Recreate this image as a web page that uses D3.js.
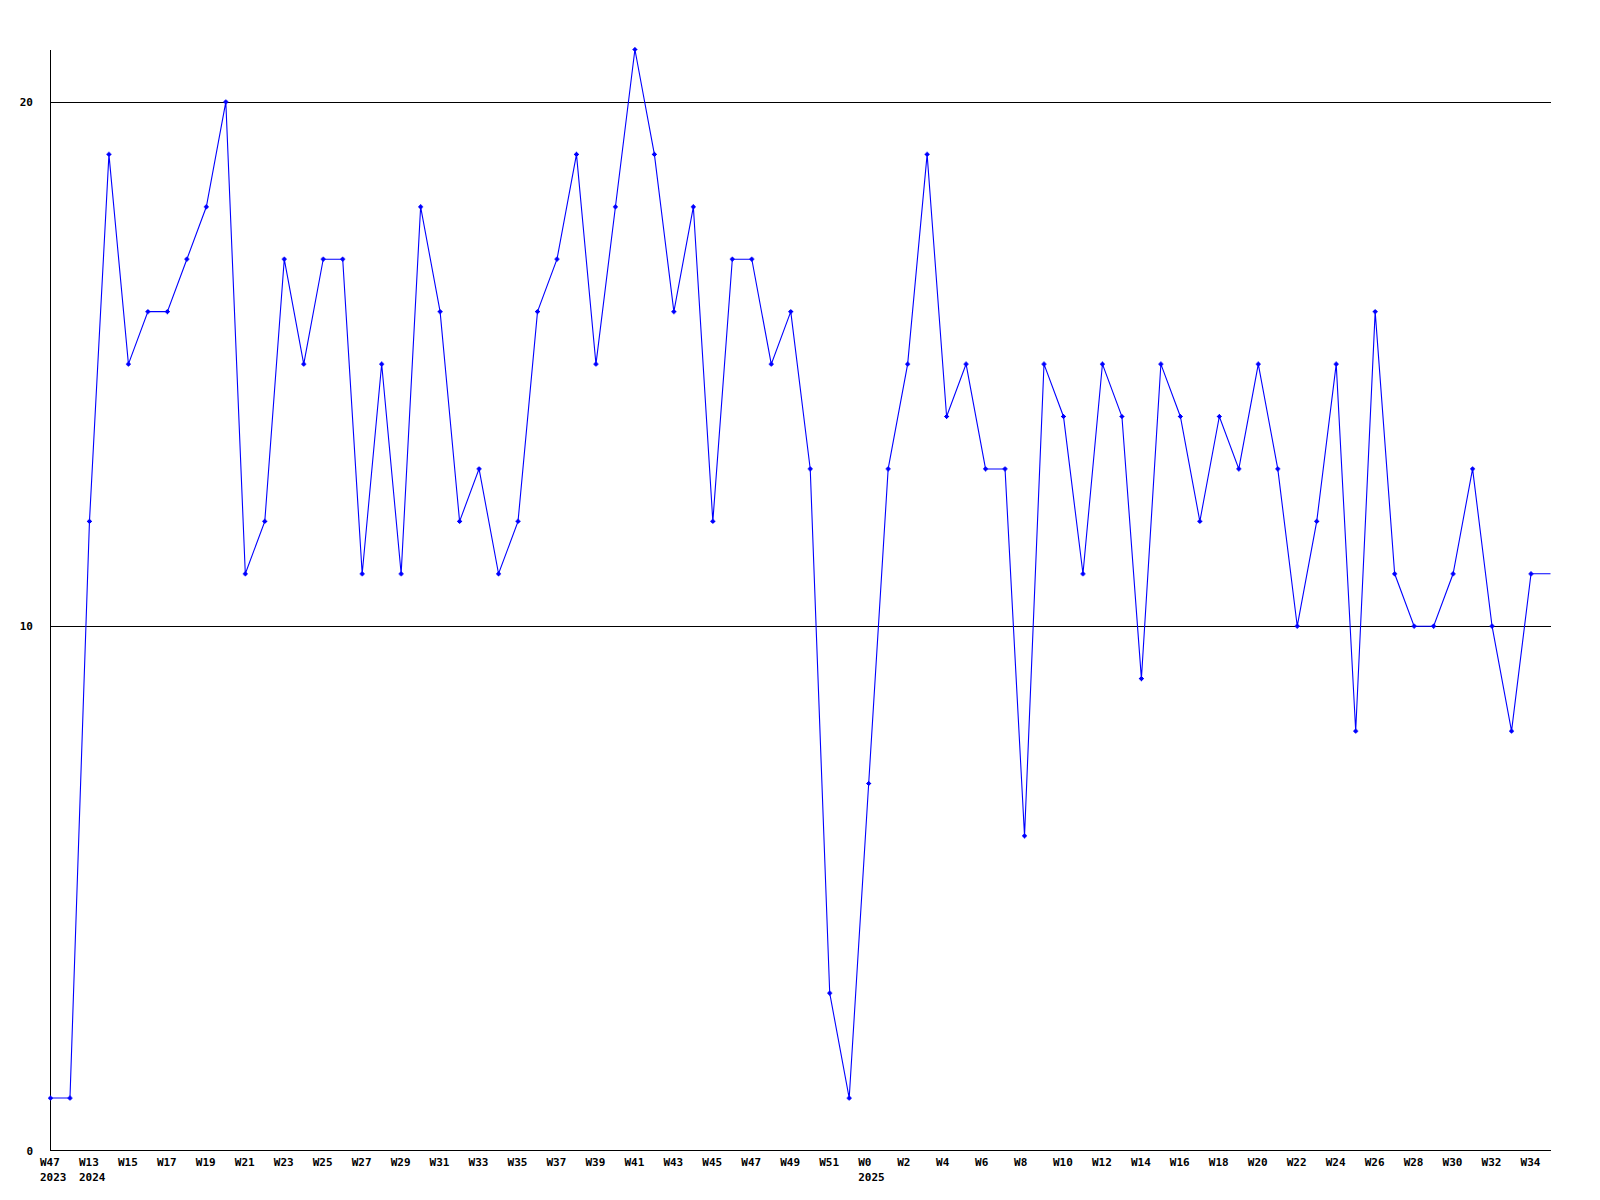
<!DOCTYPE html>
<html>
<head>
<meta charset="utf-8">
<script src="https://cdn.jsdelivr.net/npm/d3@7"></script>
<style>
  html, body { margin: 0; padding: 0; background: #ffffff; }
  svg { display: block; }
  text { font-family: "DejaVu Sans Mono", "Liberation Mono", monospace; font-weight: bold; font-size: 11px; fill: #000; }
</style>
</head>
<body>
<svg id="chart" width="1600" height="1200"></svg>
<script>
// Week labels (every point); empty string = unlabeled point
const weekLabels = [
  "W47", "", "W13", "", "W15", "", "W17", "", "W19", "", "W21", "", "W23", "", "W25", "",
  "W27", "", "W29", "", "W31", "", "W33", "", "W35", "", "W37", "", "W39", "", "W41", "",
  "W43", "", "W45", "", "W47", "", "W49", "", "W51", "", "W0", "", "W2", "", "W4", "",
  "W6", "", "W8", "", "W10", "", "W12", "", "W14", "", "W16", "", "W18", "", "W20", "",
  "W22", "", "W24", "", "W26", "", "W28", "", "W30", "", "W32", "", "W34"
];
// Year labels shown under selected weeks
const yearLabels = { 0: "2023", 2: "2024", 42: "2025" };
// Series values
const values = [
  1, 1, 12, 19, 15, 16, 16, 17, 18, 20, 11, 12, 17, 15, 17, 17,
  11, 15, 11, 18, 16, 12, 13, 11, 12, 16, 17, 19, 15, 18, 21, 19,
  16, 18, 12, 17, 17, 15, 16, 13, 3, 1, 7, 13, 15, 19, 14, 15,
  13, 13, 6, 15, 14, 11, 15, 14, 9, 15, 14, 12, 14, 13, 15, 13,
  10, 12, 15, 8, 16, 11, 10, 10, 11, 13, 10, 8, 11
];
const yTicks = [0, 10, 20];

const svg = d3.select("#chart");
const x0 = 50.5, x1 = 1550.5, yBottom = 1150.5, yTop = 49.5;
const nSlots = values.length; // axis extends one slot beyond last point

const x = d3.scaleLinear().domain([0, nSlots]).range([x0, x1]);
const y = d3.scaleLinear().domain([0, 21]).range([yBottom, yTop]);

// gridlines (10, 20)
svg.append("g").selectAll("line")
  .data(yTicks.filter(d => d > 0))
  .join("line")
  .attr("x1", x0).attr("x2", x1)
  .attr("y1", d => Math.round(y(d)) + 0.5).attr("y2", d => Math.round(y(d)) + 0.5)
  .attr("stroke", "#000").attr("stroke-width", 1)
  .attr("shape-rendering", "crispEdges");

// axes lines
svg.append("line").attr("x1", x0).attr("x2", x0).attr("y1", yTop).attr("y2", yBottom)
  .attr("stroke", "#000").attr("shape-rendering", "crispEdges");
svg.append("line").attr("x1", x0).attr("x2", x1).attr("y1", yBottom).attr("y2", yBottom)
  .attr("stroke", "#000").attr("shape-rendering", "crispEdges");

// y labels
svg.append("g").selectAll("text")
  .data(yTicks)
  .join("text")
  .attr("x", 33)
  .attr("y", d => Math.round(y(d)) + 4)
  .attr("text-anchor", "end")
  .text(d => d);

// x labels
const xl = svg.append("g");
weekLabels.forEach((lab, i) => {
  if (!lab) return;
  xl.append("text").attr("x", x(i) - 10.5).attr("y", 1166).text(lab);
  if (yearLabels[i]) xl.append("text").attr("x", x(i) - 10.5).attr("y", 1181).text(yearLabels[i]);
});

// line (extends flat to the end of the axis)
const lineData = values.map((v, i) => [i, v]).concat([[nSlots, values[values.length - 1]]]);
svg.append("path")
  .datum(lineData)
  .attr("fill", "none")
  .attr("stroke", "#0000ff")
  .attr("stroke-width", 1.1)
  .attr("d", d3.line().x(d => x(d[0])).y(d => y(d[1])));

// markers
const mk = svg.append("g").attr("fill", "#0000ff").attr("stroke", "#0000ff");
mk.selectAll("path")
  .data(values)
  .join("path")
  .attr("transform", (d, i) => `translate(${x(i)},${y(d)})`)
  .attr("stroke-width", 1.2)
  .attr("d", "M-2.5,0H2.5M0,-2.5V2.5M-1,-1H1V1H-1Z");
</script>
</body>
</html>
